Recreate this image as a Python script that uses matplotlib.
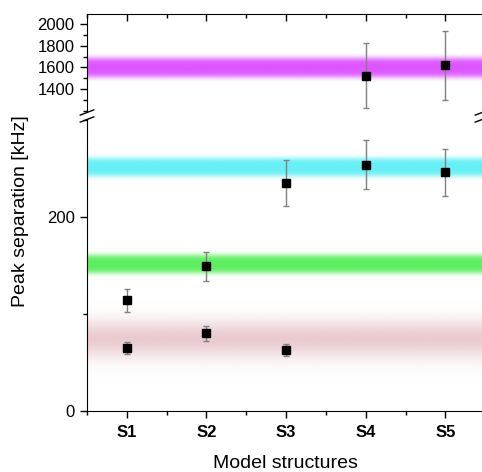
import numpy as np
import matplotlib
matplotlib.use('Agg')
import matplotlib.pyplot as plt
from matplotlib.ticker import MultipleLocator
from matplotlib.colors import to_rgb

plt.rcParams['font.family'] = ['Liberation Sans', 'DejaVu Sans']

structures = ['S1', 'S2', 'S3', 'S4', 'S5']
x_pos = [1, 2, 3, 4, 5]

# upper branch (lower panel)
mode_a = [114, 149, 235, 254, 246]
mode_a_err = [11.5, 15, 24, 25.5, 24.5]
# lowest branch
mode_b_x = [1, 2, 3]
mode_b = [65, 80, 63]
mode_b_err = [6, 8, 6]
# high values (upper panel)
high_x = [4, 5]
high = [1526, 1620]
high_err = [300, 317]

# reference bands: centre, half width, colour, edge softness
band_centres = [74, 151, 251, 1600]
band_halfwidths = [16, 9, 9, 85]
band_colours = ['#eacbd0', '#5eee5e', '#66f0f6', '#dd55ff']
band_power = [2, 4, 4, 4]

fig = plt.figure(figsize=(4.82, 4.72), dpi=100)
ax_lo = fig.add_axes([0.1805, 0.1292, 0.8195, 0.6186])
ax_hi = fig.add_axes([0.1805, 0.7627, 0.8195, 0.2076])


def draw_band(ax, c, hw, col, p):
    t = np.linspace(-2.5, 2.5, 200)
    a = np.exp(-np.log(2) * np.abs(t) ** p)
    img = np.zeros((len(t), 2, 4))
    img[:, :, :3] = to_rgb(col)
    img[:, :, 3] = a[:, None]
    ax.imshow(img, extent=[0.5, 5.5, c - 2.5 * hw, c + 2.5 * hw], aspect='auto',
              origin='lower', interpolation='bilinear', zorder=1)


for c, hw, col, p in zip(band_centres, band_halfwidths, band_colours, band_power):
    if c > 1000:
        draw_band(ax_hi, c, hw, col, p)
    else:
        draw_band(ax_lo, c, hw, col, p)

eb = dict(fmt='s', color='black', ms=6, ecolor='#808080', elinewidth=1,
          capsize=2.5, capthick=1, zorder=5)
ax_lo.errorbar(x_pos, mode_a, yerr=mode_a_err, **eb)
ax_lo.errorbar(mode_b_x, mode_b, yerr=mode_b_err, **eb)
ax_hi.errorbar(high_x, high, yerr=high_err, **eb)

for ax in (ax_lo, ax_hi):
    ax.set_xlim(0.5, 5.46)
    ax.spines['right'].set_visible(False)
    ax.xaxis.set_minor_locator(MultipleLocator(0.5))
    ax.tick_params(axis='y', which='major', direction='out', length=5, width=1,
                   labelsize=12, pad=4)
    ax.tick_params(axis='y', which='minor', direction='out', length=3, width=1)
    ax.set_xticks(x_pos)

ax_lo.set_ylim(0, 301)
ax_lo.yaxis.set_major_locator(MultipleLocator(200))
ax_lo.yaxis.set_minor_locator(MultipleLocator(100))
ax_lo.spines['top'].set_visible(False)
ax_lo.set_xticklabels(structures, fontweight='bold', fontsize=12)
ax_lo.tick_params(axis='x', which='major', direction='out', length=5, width=1, pad=5)
ax_lo.tick_params(axis='x', which='minor', direction='out', length=3, width=1)

ax_hi.set_ylim(1190, 2092)
ax_hi.yaxis.set_major_locator(MultipleLocator(200))
ax_hi.yaxis.set_minor_locator(MultipleLocator(100))
ax_hi.set_yticks([1400, 1600, 1800, 2000])
ax_hi.spines['bottom'].set_visible(False)
ax_hi.tick_params(axis='x', which='both', bottom=False, labelbottom=False,
                  top=True, direction='in', width=1)
ax_hi.tick_params(axis='x', which='major', length=5)
ax_hi.tick_params(axis='x', which='minor', length=3)

# break marks (//) on the spines
for xb in (0.1805, 1.0):
    for yb in (1 - 112.5 / 472, 1 - 119.5 / 472):
        fig.add_artist(plt.Line2D([xb - 0.014, xb + 0.014], [yb - 0.0055, yb + 0.0055],
                                  color='black', lw=1, transform=fig.transFigure))

fig.text(0.042, 0.553, 'Peak separation [kHz]', rotation=90, va='center', ha='center',
         fontsize=14)
fig.text(0.592, 0.019, 'Model structures', va='center', ha='center', fontsize=14)

plt.savefig('out.png', dpi=100)
